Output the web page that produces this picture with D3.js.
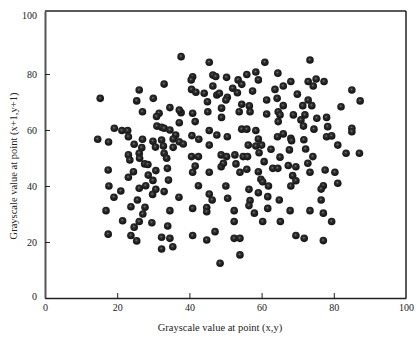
<!DOCTYPE html>
<html><head><meta charset="utf-8">
<script src="https://cdn.jsdelivr.net/npm/d3@7/dist/d3.min.js"></script>
<style>
html,body{margin:0;padding:0;background:#fff;}
svg{display:block;font-family:"Liberation Serif","Times New Roman",serif;}
</style></head>
<body><svg id="chart" width="416" height="341"></svg>
<script>
// Grayscale at (x,y) vs grayscale at (x+1,y+1)
const xValues = [37.7,45.5,60.9,33.0,40.9,40.5,46.5,47.3,50.3,55.9,58.4,64.5,53.5,54.5,59.1,46.5,52.0,53.3,57.5,40.6,
41.8,44.1,47.6,48.3,50.5,50.1,45.0,63.7,30.0,61.4,34.6,37.7,37.2,31.6,30.9,40.9,45.1,48.9,48.9,54.5,
56.6,53.8,56.8,61.4,64.6,64.6,41.6,37.2,31.0,32.3,33.0,34.6,36.2,35.5,37.2,38.3,29.9,32.3,32.8,30.6,
35.5,33.0,45.5,47.6,50.5,40.7,42.6,45.5,54.5,55.9,58.4,59.1,56.3,58.4,60.0,59.3,62.6,64.4,40.6,42.5,
48.8,50.3,52.6,54.9,56.1,33.7,33.9,30.7,41.6,40.9,45.5,48.8,49.4,52.9,54.0,55.9,59.1,60.7,63.1,64.5,
59.8,60.3,61.9,29.9,34.2,30.7,29.8,33.0,42.5,50.1,37.1,45.5,46.3,50.6,56.5,59.1,61.7,56.8,56.5,58.0,
61.7,64.9,34.6,40.9,44.8,44.8,52.4,52.4,60.3,65.2,29.6,34.0,47.1,40.9,44.8,32.3,34.6,52.4,54.0,32.3,
35.4,54.0,48.5,26.1,15.3,25.4,27.0,19.2,21.3,22.9,23.1,14.6,17.6,24.7,27.0,26.8,23.1,26.1,23.5,26.2,
27.6,28.5,17.5,24.5,23.1,28.6,17.7,21.0,19.1,26.1,27.9,25.6,16.9,23.8,27.7,27.1,21.5,26.1,24.7,17.5,
23.8,25.4,73.4,66.0,68.1,72.9,75.1,74.3,77.3,85.0,87.3,69.9,72.9,73.9,71.4,64.3,66.0,82.0,65.1,68.8,
72.0,70.9,75.3,78.0,71.6,74.5,78.3,85.0,85.0,66.0,68.1,68.3,71.7,78.0,79.4,81.1,83.4,87.1,67.7,72.2,
74.2,65.1,67.4,69.5,72.8,73.4,68.6,69.5,68.1,77.6,80.3,77.1,76.5,81.1,76.5,67.9,73.4,77.1,79.4,69.5,
71.8,77.1];
const yValues = [86.2,84.2,84.2,76.4,79.0,77.9,79.6,79.1,78.8,79.8,80.7,80.3,77.9,76.3,77.9,75.7,74.9,73.3,73.9,74.5,
73.5,73.1,72.5,73.1,71.7,70.7,70.1,74.5,71.3,70.7,68.0,66.2,67.1,66.0,64.8,66.0,66.5,67.8,64.5,69.2,
68.6,66.5,66.5,65.7,66.5,63.0,63.0,62.6,61.4,61.0,60.6,60.0,58.2,56.8,55.8,55.0,56.0,56.4,54.3,53.9,
53.8,51.7,59.8,58.2,57.6,58.0,56.7,54.6,60.3,60.3,59.8,56.8,54.6,54.3,54.6,51.9,53.1,57.6,50.5,50.5,
51.1,50.5,51.1,50.5,50.5,49.9,46.3,45.5,47.1,44.9,44.9,46.9,48.1,47.9,44.9,46.0,45.1,48.7,46.3,46.3,
42.4,41.5,40.0,42.0,42.1,38.8,37.0,38.0,40.1,40.0,36.0,37.1,35.0,35.6,38.8,37.6,36.2,34.8,33.0,30.3,
32.0,35.0,31.2,32.0,32.3,30.8,31.2,27.3,27.3,27.3,26.9,25.7,23.7,22.3,20.7,21.7,21.3,21.3,21.3,17.5,
18.3,15.4,12.4,74.3,71.3,70.4,66.5,60.6,59.8,59.8,57.6,56.7,55.7,54.9,56.7,53.7,51.1,51.7,49.3,49.9,
47.9,47.7,45.7,45.1,43.1,43.9,40.0,38.2,36.0,39.2,40.1,35.0,31.2,32.6,32.4,30.0,27.6,27.3,25.3,22.8,
22.3,20.4,85.0,75.7,77.3,77.3,78.2,75.7,77.3,74.3,70.4,72.8,70.7,68.7,68.7,71.3,68.7,68.3,65.4,65.4,
65.4,63.6,64.2,64.5,61.4,60.3,61.2,60.6,59.4,58.6,57.0,56.2,56.5,57.6,57.9,54.6,51.7,51.7,52.9,53.2,
50.5,50.3,47.3,46.9,48.1,44.9,43.7,41.9,40.0,45.7,44.9,40.1,38.9,41.0,35.0,31.2,31.2,30.3,27.3,22.3,
21.3,20.5];
const xTicks = [0,20,40,60,80,100];
const yTicks = [0,20,40,60,80,100];
const xTitle = "Grayscale value at point (x,y)";
const yTitle = "Grayscale value at point (x+1,y+1)";

const svg = d3.select("#chart");
const x = d3.scaleLinear().domain([0,100]).range([45,406]);
const y = d3.scaleLinear().domain([0,102.5]).range([298,11]);

const defs = svg.append("defs");
const grad = defs.append("radialGradient").attr("id","ball")
  .attr("cx","45%").attr("cy","42%").attr("r","60%");
grad.append("stop").attr("offset","0%").attr("stop-color","#7a7a7a");
grad.append("stop").attr("offset","30%").attr("stop-color","#2e2e2e");
grad.append("stop").attr("offset","100%").attr("stop-color","#0e0e0e");

// frame (top/right)
svg.append("line").attr("x1",x(0)).attr("x2",x(100)).attr("y1",11).attr("y2",11)
  .attr("stroke","#222").attr("stroke-width",1.5);
svg.append("line").attr("x1",x(100)).attr("x2",x(100)).attr("y1",11).attr("y2",y(0))
  .attr("stroke","#222").attr("stroke-width",1.5);

const xAxis = svg.append("g").attr("transform",`translate(0,${y(0)})`)
  .call(d3.axisBottom(x).tickValues(xTicks).tickSize(-5).tickPadding(6).tickSizeOuter(0));
const yAxis = svg.append("g").attr("transform",`translate(${x(0)},0)`)
  .call(d3.axisLeft(y).tickValues(yTicks).tickSize(-5).tickPadding(8).tickSizeOuter(0));
[xAxis,yAxis].forEach(g=>{
  g.selectAll("text").attr("font-family","Liberation Serif, Times New Roman, serif")
    .attr("font-size",10).attr("fill","#222");
  g.selectAll(".tick line").attr("stroke","#222").attr("stroke-width",1);
});
xAxis.select(".domain").attr("stroke","#222").attr("stroke-width",1.5);
yAxis.select(".domain").attr("stroke","#555").attr("stroke-width",2);
yAxis.selectAll(".tick").filter(d=>d===100).select("line").remove();
xAxis.selectAll(".tick").filter(d=>d===100).select("line").remove();
yAxis.selectAll(".tick").filter(d=>d===0).select("text").attr("dy","0.1em");
yAxis.selectAll(".tick").filter(d=>d===100).select("text").attr("dy","0.0em");

svg.append("g").selectAll("circle").data(xValues.map((v,i)=>[v,yValues[i]]))
  .join("circle")
  .attr("cx",d=>x(d[0])).attr("cy",d=>y(d[1])).attr("r",3.8)
  .attr("fill","url(#ball)");

svg.append("text").attr("x",220).attr("y",331).attr("text-anchor","middle")
  .attr("font-size",10.5).attr("fill","#222").text(xTitle);
svg.append("text").attr("transform","translate(17,166) rotate(-90)")
  .attr("text-anchor","middle").attr("font-size",10.5).attr("fill","#222").text(yTitle);
</script></body></html>
